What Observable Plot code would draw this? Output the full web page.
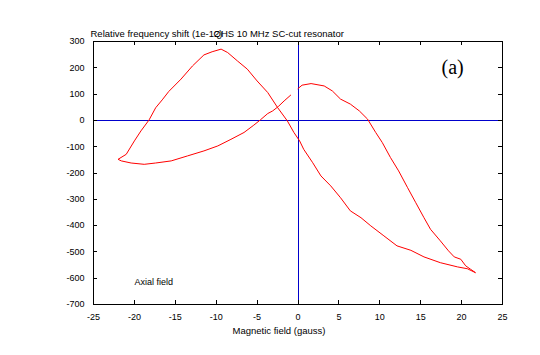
<!DOCTYPE html>
<html>
<head>
<meta charset="utf-8">
<script src="https://cdn.jsdelivr.net/npm/d3@7"></script>
<script src="https://cdn.jsdelivr.net/npm/@observablehq/plot@0.6"></script>
<style>
  html, body { margin: 0; padding: 0; background: white; }
  #chart svg { display: block; }
</style>
</head>
<body>
<div id="chart"></div>
<script>
// Magnetic field (gauss), in drawing order
const field = [
  -0.9, -1.7, -2.4, -3.1, -3.7, -4.6, -5.4, -6.6, -8.2, -9.8, -11.5, -13.5, -15.5, -17.4, -18.8, -20.4, -21.6, -22.0,
  -21.0, -20.0, -19.2, -18.2, -17.4, -16.6, -15.8, -14.3, -12.9, -11.5, -10.5, -9.4, -8.6, -7.4, -6.2, -5.0, -3.7, -2.5, -1.3, -0.5,
  0.2, 0.7, 1.8, 2.8, 4.0, 5.2, 6.4, 7.7, 8.9, 10.5, 12.1, 13.8, 15.4, 17.4, 19.5, 20.7, 21.7,
  21.1, 20.5, 19.9, 19.1, 18.4, 17.4, 16.2, 15.4, 14.4, 13.4, 12.3, 11.3, 10.3, 9.5, 8.5, 7.5, 6.4, 5.2, 4.2, 3.2, 1.6, 0.5, 0.0
];
// Relative frequency shift (1e-12)
const shift = [
  96, 74, 53, 36, 26, 2, -18, -46, -72, -97, -116, -135, -154, -162, -167, -162, -154, -148,
  -129, -78, -40, 2, 48, 78, 110, 157, 207, 249, 261, 271, 258, 226, 195, 150, 106, 49, -2, -46,
  -78, -110, -161, -211, -249, -294, -344, -370, -401, -439, -477, -494, -519, -541, -557, -564, -579,
  -566, -553, -528, -519, -496, -458, -414, -370, -313, -256, -192, -141, -84, -46, 5, 36, 62, 81, 112, 131, 140, 134, 121
];
const xTicks = [-25, -20, -15, -10, -5, 0, 5, 10, 15, 20, 25];
const yTicks = [-700, -600, -500, -400, -300, -200, -100, 0, 100, 200, 300];
const yTitle = "Relative frequency shift (1e-12)";
const chartTitle = "QHS 10 MHz SC-cut resonator";
const xTitle = "Magnetic field (gauss)";
const panelLabel = "(a)";
const note = "Axial field";

const data = field.map((f, i) => ({field: f, shift: shift[i]}));

const W = 540, H = 355, mL = 93, mR = 38, mT = 41, mB = 51;
const fw = W - mL - mR, fh = H - mT - mB, tl = 4;
const blue = "#0000cc";
const fmt = d => String(d);

const chart = Plot.plot({
  width: W, height: H,
  marginLeft: mL, marginRight: mR, marginTop: mT, marginBottom: mB,
  style: {fontFamily: "'Liberation Sans', Arial, sans-serif", fontSize: "9px", background: "white", color: "black"},
  x: {domain: [-25, 25]},
  y: {domain: [-700, 300]},
  marks: [
    Plot.ruleY([0], {stroke: blue, strokeWidth: 1, shapeRendering: "crispEdges"}),
    Plot.ruleX([0], {stroke: blue, strokeWidth: 1, shapeRendering: "crispEdges"}),
    Plot.line(data, {x: "field", y: "shift", stroke: "#ff0000", strokeWidth: 1}),
    Plot.frame({stroke: "black", shapeRendering: "crispEdges"}),
    Plot.tickX(xTicks, {x: d => d, insetTop: fh - tl, stroke: "black", shapeRendering: "crispEdges"}),
    Plot.tickX(xTicks, {x: d => d, insetBottom: fh - tl, stroke: "black", shapeRendering: "crispEdges"}),
    Plot.tickY(yTicks, {y: d => d, insetRight: fw - tl, stroke: "black", shapeRendering: "crispEdges"}),
    Plot.tickY(yTicks, {y: d => d, insetLeft: fw - tl, stroke: "black", shapeRendering: "crispEdges"}),
    Plot.axisX({ticks: xTicks, tickFormat: fmt, tickSize: 0, tickPadding: 9, label: null, fontSize: 9}),
    Plot.axisY({ticks: yTicks, tickFormat: fmt, tickSize: 0, tickPadding: 9, label: null, fontSize: 9}),
    Plot.text([xTitle], {text: d => d, frameAnchor: "bottom", dx: -19, dy: 29, lineAnchor: "bottom", fontSize: 9.5}),
    Plot.text([yTitle], {text: d => d, frameAnchor: "top-left", textAnchor: "start", lineAnchor: "bottom", dx: -3, dy: -5, fontSize: 9.5}),
    Plot.text([chartTitle], {text: d => d, frameAnchor: "top-left", textAnchor: "start", lineAnchor: "bottom", dx: 120, dy: -5, fontSize: 9.5}),
    Plot.text([panelLabel], {text: d => d, frameAnchor: "top-left", textAnchor: "start", lineAnchor: "bottom", dx: 348, dy: 32, fontSize: 20, fontFamily: "'Liberation Serif', 'Times New Roman', serif"}),
    Plot.text([note], {text: d => d, frameAnchor: "top-left", textAnchor: "start", lineAnchor: "bottom", dx: 41, dy: 243, fontSize: 9})
  ]
});
document.getElementById("chart").appendChild(chart);
</script>
</body>
</html>
